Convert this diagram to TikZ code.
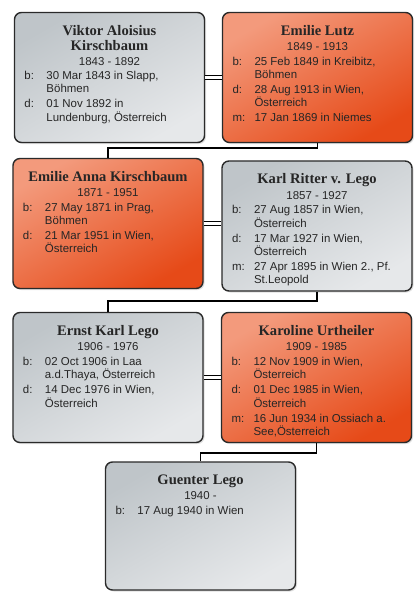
\documentclass[tikz,border=0pt]{standalone}
\usepackage{fontspec}
\setmainfont{Liberation Sans}
\newfontfamily\namefont{Liberation Serif}
\usepackage{array}
\usepackage{tikz}
\usetikzlibrary{positioning,calc,shadows}
\definecolor{famgrayA}{HTML}{BFC5C9}
\definecolor{famgrayB}{HTML}{E6E8EA}
\definecolor{famorangeA}{HTML}{F39A7C}
\definecolor{famorangeB}{HTML}{E64A18}
\definecolor{famline}{HTML}{2A2A2A}
\definecolor{famtext}{HTML}{262626}
\newcommand{\pname}[1]{\multicolumn{2}{@{}c@{}}{\namefont\bfseries\fontsize{14.6}{16}\selectfont #1}}
\newcommand{\pyears}[1]{\multicolumn{2}{@{}c@{}}{#1}}

\begin{document}
\begin{tikzpicture}[x=1bp, y=-1bp,
    person/.style={draw=famline, line width=1.4bp, rounded corners=7bp, minimum width=190bp, minimum height=130bp, inner sep=0pt,
        drop shadow={opacity=0.25, shadow xshift=1.5bp, shadow yshift=-1.5bp}},
    male/.style={person, top color=famgrayA, bottom color=famgrayB, shading angle=30},
    female/.style={person, top color=famorangeA, bottom color=famorangeB, shading angle=30},
    info/.style={anchor=north, inner sep=0pt, text=famtext, font=\fontsize{11.5}{13}\selectfont},
    marriage/.style={draw=black, line width=1.4bp, double distance=2.2bp},
    descent/.style={draw=black, line width=1.8bp},
]
\useasboundingbox (0,0) rectangle (415,592);
\fill[white] (0,0) rectangle (415,592);

\node[male] (viktor) at (109.5,77.5) {};
\node[female] (lutz) at (317.5,77.5) {};
\node[female] (anna) at (108,223.5) {};
\node[male] (karl) at (317,226) {};
\node[male] (ernst) at (108,377.5) {};
\node[female] (karoline) at (316.5,377.5) {};
\node[male, minimum height=128bp] (guenter) at (200.5,526) {};

\node[info] (viktor-info) at ([yshift=-13bp]viktor.north) {%
\begin{tabular}{@{}p{22bp}@{}p{148bp}@{}}
\pname{Viktor Aloisius}\\[1.5bp]
\pname{Kirschbaum}\\[1.5bp]
\pyears{1843 - 1892}\\[2bp]
b: & 30 Mar 1843 in Slapp,\\
   & Böhmen\\[2bp]
d: & 01 Nov 1892 in\\
   & Lundenburg, Österreich
\end{tabular}};

\node[info] (lutz-info) at ([yshift=-13bp]lutz.north) {%
\begin{tabular}{@{}p{22bp}@{}p{148bp}@{}}
\pname{Emilie Lutz}\\[2.5bp]
\pyears{1849 - 1913}\\[2bp]
b: & 25 Feb 1849 in Kreibitz,\\
   & Böhmen\\[2bp]
d: & 28 Aug 1913 in Wien,\\
   & Österreich\\[2bp]
m: & 17 Jan 1869 in Niemes
\end{tabular}};

\node[info] (anna-info) at ([yshift=-13bp]anna.north) {%
\begin{tabular}{@{}p{22bp}@{}p{148bp}@{}}
\pname{Emilie Anna Kirschbaum}\\[2.5bp]
\pyears{1871 - 1951}\\[2bp]
b: & 27 May 1871 in Prag,\\
   & Böhmen\\[2bp]
d: & 21 Mar 1951 in Wien,\\
   & Österreich
\end{tabular}};

\node[info] (karl-info) at ([yshift=-13bp]karl.north) {%
\begin{tabular}{@{}p{22bp}@{}p{148bp}@{}}
\pname{Karl Ritter v. Lego}\\[2.5bp]
\pyears{1857 - 1927}\\[2bp]
b: & 27 Aug 1857 in Wien,\\
   & Österreich\\[2bp]
d: & 17 Mar 1927 in Wien,\\
   & Österreich\\[2bp]
m: & 27 Apr 1895 in Wien 2., Pf.\\
   & St.Leopold
\end{tabular}};

\node[info] (ernst-info) at ([yshift=-13bp]ernst.north) {%
\begin{tabular}{@{}p{22bp}@{}p{148bp}@{}}
\pname{Ernst Karl Lego}\\[2.5bp]
\pyears{1906 - 1976}\\[2bp]
b: & 02 Oct 1906 in Laa\\
   & a.d.Thaya, Österreich\\[2bp]
d: & 14 Dec 1976 in Wien,\\
   & Österreich
\end{tabular}};

\node[info] (karoline-info) at ([yshift=-13bp]karoline.north) {%
\begin{tabular}{@{}p{22bp}@{}p{148bp}@{}}
\pname{Karoline Urtheiler}\\[2.5bp]
\pyears{1909 - 1985}\\[2bp]
b: & 12 Nov 1909 in Wien,\\
   & Österreich\\[2bp]
d: & 01 Dec 1985 in Wien,\\
   & Österreich\\[2bp]
m: & 16 Jun 1934 in Ossiach a.\\
   & See,Österreich
\end{tabular}};

\node[info] (guenter-info) at ([yshift=-13bp]guenter.north) {%
\begin{tabular}{@{}p{22bp}@{}p{148bp}@{}}
\pname{Guenter Lego}\\[2.5bp]
\pyears{1940 -}\\[2bp]
b: & 17 Aug 1940 in Wien
\end{tabular}};

\draw[marriage] (viktor.east) -- (lutz.west |- viktor.east);
\draw[marriage] (anna.east) -- (karl.west |- anna.east);
\draw[marriage] (ernst.east) -- (karoline.west |- ernst.east);

\draw[descent] (lutz.south) -- ++(0,5) -| (anna.north);
\draw[descent] (karl.south) -- ++(0,9) -| (ernst.north);
\draw[descent] (karoline.south) -- ++(0,10) -| (guenter.north);
\end{tikzpicture}
\end{document}
